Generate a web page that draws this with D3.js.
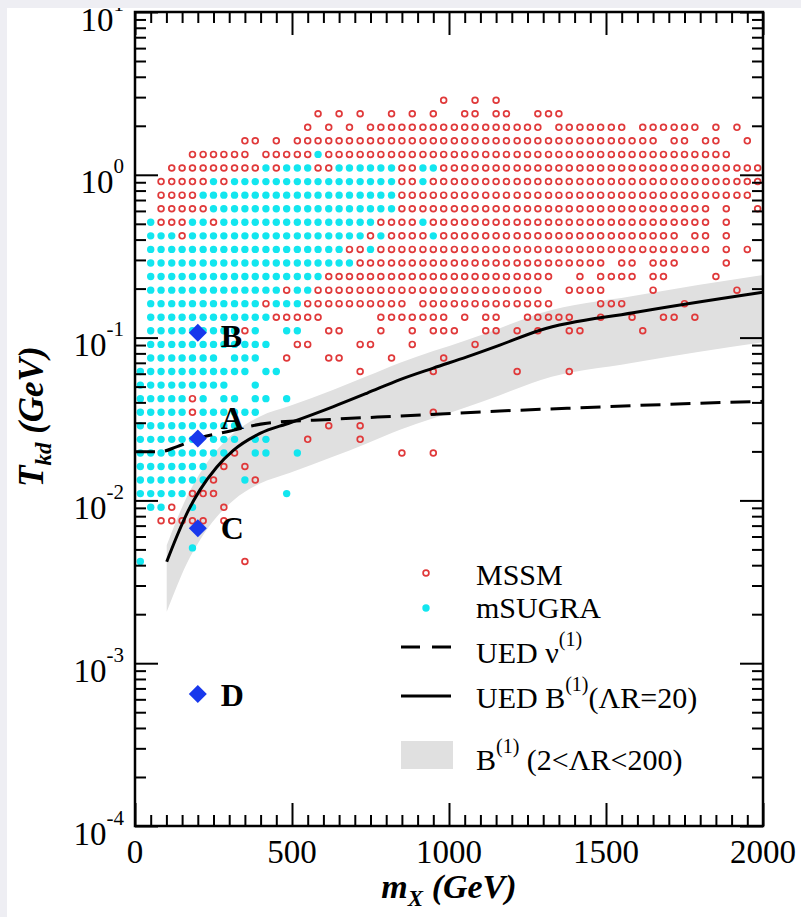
<!DOCTYPE html>
<html><head><meta charset="utf-8">
<script src="https://cdn.jsdelivr.net/npm/d3@7"></script>
<style>body{margin:0;background:#fff;} svg{display:block}</style>
</head><body>
<svg id="c" width="801" height="917"></svg>
<script>
// ---------- data ----------
const massGrid = [17,50,83,117,150,183,217,250,283,317,350,383,417,450,483,517,550,583,617,650,
  683,717,750,783,817,850,883,917,950,983,1017,1050,1083,1117,1150,1183,1217,1250,1283,1317,
  1350,1383,1417,1450,1483,1517,1550,1583,1617,1650,1683,1717,1750,1783,1817,1850,1883,1917,1950,1983];
const tkdLevels = [2.873,2.371,1.957,1.616,1.334,1.101,0.9085,0.7499,0.6190,0.5109,0.4217,0.3481,
  0.2873,0.2371,0.1957,0.1616,0.1334,0.1101,0.09085,0.07499,0.06190,0.05109,0.04217,0.03481,
  0.02873,0.02371,0.01957,0.01616,0.01334,0.01101,0.009085,0.007499,0.006190,0.005109,0.004217];
// column indices (into massGrid) present on each tkd level
const mssmRows = [
  "29 32 34",
  "17 19 21 24 26 28 31 32 34 35 38-40",
  "16 18 20 22-38 40-46 48-53 55 57",
  "10 11 13 15-49 51 52 54 55 58",
  "5-10 12-16 18-56",
  "3-11 13 17 18 25 26 29-59",
  "2-6 8 25 26 28-59",
  "2-5 25-58",
  "2-6 25-54 56 59",
  "2-4 7 23-26 28-54 56",
  "4 22 24-27 29-51 53 54 56",
  "20 21 23-54 56 58",
  "21-44 46 47 49-51 56",
  "18-39 42 44-47 49 50 55",
  "14 17-38 41-44 49 57",
  "12 16-25 27-39 44-46 52",
  "13-17 23-29 31 33 34 37-41 44 47 50 51 53",
  "10 18 19 23 26 28-30 33 34 36 38 41 42 48",
  "15 16 21 22 26 32",
  "14 18 19 24 29",
  "21 28 36 41",
  "",
  "5",
  "5 28",
  "18 21",
  "16 21",
  "9 25 28",
  "8 10",
  "7 11",
  "5-7",
  "3 8",
  "2-6 8",
  "",
  "",
  "10"
];
const msugraRows = [
  "", "", "", "",
  "17",
  "12 14-16 19-24 27 28",
  "7 9-24 27",
  "6-24",
  "7-24",
  "1 5 6 8-22 27",
  "1-3 5-21 23 28",
  "1-19 22",
  "1-20",
  "1-17",
  "1-13 15 16",
  "1-11 13-15",
  "1-12",
  "1-9 11 14 15",
  "1-12",
  "1-7 9-11",
  "0-10 12 13",
  "0-8 11",
  "0-4 6 8 9 11 12 14",
  "0-4 6-11",
  "0-9",
  "0-5 7-9 11 12",
  "0-8 11 12 15",
  "0-6",
  "0-6 10",
  "0-4 14",
  "1 2 5",
  "",
  "",
  "5",
  "0"
];
const benchNames = ["A","B","C","D"];
const benchMass  = [200, 200, 200, 200];
const benchTkd   = [0.0240, 0.107, 0.00674, 0.000647];

const uedNuMass = [0, 80, 134, 207, 293, 420, 631, 844, 1162, 1376, 1586, 1799, 2000];
const uedNuTkd  = [0.0199, 0.0199, 0.0214, 0.0242, 0.0264, 0.0298, 0.0315, 0.0330, 0.0354, 0.0368, 0.0382, 0.0395, 0.0406];

const uedBMass = [101, 133, 165, 207, 260, 313, 398, 494, 632, 738, 844, 950, 1057, 1162, 1290, 1586, 2000];
const uedBTkd  = [0.0042, 0.0060, 0.0083, 0.0116, 0.0160, 0.0203, 0.0258, 0.0300, 0.0377, 0.0455, 0.0552, 0.0650, 0.0762, 0.0900, 0.111, 0.142, 0.190];
const bandUpper = [0.0053, 0.0076, 0.0105, 0.0147, 0.0203, 0.0258, 0.0328, 0.0381, 0.0479, 0.0578, 0.0701, 0.0826, 0.0968, 0.1143, 0.141, 0.180, 0.242];
const bandLower = [0.00207, 0.00296, 0.00409, 0.00571, 0.00790, 0.0100, 0.0127, 0.0148, 0.0186, 0.0224, 0.0272, 0.0320, 0.0375, 0.0443, 0.0547, 0.070, 0.0935];

const xMajorTicks = [0, 500, 1000, 1500, 2000];
const yMajorExps = [-4, -3, -2, -1, 0, 1];

// ---------- drawing ----------
const svg = d3.select("#c");
const L = 135, R = 763, T = 12, B = 826;
const x = d3.scaleLinear().domain([0, 2000]).range([L, R]);
const y = d3.scaleLog().domain([1e-4, 10]).range([B, T]);
const serif = "'Liberation Serif','Times New Roman',serif";

svg.append("rect").attr("width", 801).attr("height", 917).attr("fill", "#fff");

const defs = svg.append("defs");
defs.append("clipPath").attr("id", "clip").append("rect")
  .attr("x", L).attr("y", T).attr("width", R - L).attr("height", B - T);

function parseRow(s) {
  const out = [];
  s.trim().split(/\s+/).filter(t => t).forEach(t => {
    const p = t.split("-").map(Number);
    if (p.length === 1) out.push(p[0]);
    else for (let k = p[0]; k <= p[1]; k++) out.push(k);
  });
  return out;
}
const mssm = [], msugra = [];
mssmRows.forEach((s, i) => parseRow(s).forEach(k => mssm.push([massGrid[k], tkdLevels[i]])));
msugraRows.forEach((s, i) => parseRow(s).forEach(k => msugra.push([massGrid[k], tkdLevels[i]])));

const plot = svg.append("g").attr("clip-path", "url(#clip)");

// band
const bandData = uedBMass.map((m, i) => ({m, lo: bandLower[i], hi: bandUpper[i]}));
plot.append("path").datum(bandData)
  .attr("fill", "#e0e0e0")
  .attr("d", d3.area().x(d => x(d.m)).y0(d => y(d.lo)).y1(d => y(d.hi)).curve(d3.curveMonotoneX));

// points
plot.append("g").selectAll("circle").data(msugra).join("circle")
  .attr("cx", d => x(d[0])).attr("cy", d => y(d[1])).attr("r", 3.7)
  .attr("fill", "#12e6ef");
plot.append("g").selectAll("circle").data(mssm).join("circle")
  .attr("cx", d => x(d[0])).attr("cy", d => y(d[1])).attr("r", 2.9)
  .attr("fill", "none").attr("stroke", "#e0393a").attr("stroke-width", 1.7);

// lines
const line = d3.line().x(d => x(d[0])).y(d => y(d[1])).curve(d3.curveMonotoneX);
plot.append("path").datum(uedNuMass.map((m, i) => [m, uedNuTkd[i]]))
  .attr("fill", "none").attr("stroke", "#000").attr("stroke-width", 3)
  .attr("stroke-dasharray", "20,10").attr("d", line);
plot.append("path").datum(uedBMass.map((m, i) => [m, uedBTkd[i]]))
  .attr("fill", "none").attr("stroke", "#000").attr("stroke-width", 3).attr("d", line);

// benchmarks
const bench = benchNames.map((n, i) => ({n, m: benchMass[i], t: benchTkd[i]}));
const labelDy = {A: -10, B: 14, C: 11, D: 12};
svg.append("g").selectAll("path").data(bench).join("path")
  .attr("transform", d => `translate(${x(d.m)},${y(d.t)})`)
  .attr("d", "M0,-9L9,0L0,9L-9,0Z").attr("fill", "#1838ec");
svg.append("g").selectAll("text").data(bench).join("text")
  .attr("x", d => x(d.m) + 23).attr("y", d => y(d.t) + labelDy[d.n])
  .attr("font-family", serif).attr("font-weight", "bold").attr("font-size", 32)
  .text(d => d.n);

// axes ticks (inward on all sides)
const xMinor = d3.range(0, 2001, 50).filter(v => v % 500 !== 0);
const yMinor = [];
for (let e = -4; e < 1; e++) for (let m = 2; m <= 9; m++) yMinor.push(m * Math.pow(10, e));
const yMajor = yMajorExps.map(e => Math.pow(10, e));

function styleAxis(g) {
  g.select(".domain").remove();
  g.selectAll("line").attr("stroke", "#000").attr("stroke-width", 2);
  g.selectAll("text").remove();
}
svg.append("g").attr("transform", `translate(0,${B})`).call(d3.axisBottom(x).tickValues(xMinor).tickSize(-11)).call(styleAxis);
svg.append("g").attr("transform", `translate(0,${B})`).call(d3.axisBottom(x).tickValues(xMajorTicks).tickSize(-23)).call(styleAxis);
svg.append("g").attr("transform", `translate(0,${T})`).call(d3.axisTop(x).tickValues(xMinor).tickSize(-11)).call(styleAxis);
svg.append("g").attr("transform", `translate(0,${T})`).call(d3.axisTop(x).tickValues(xMajorTicks).tickSize(-23)).call(styleAxis);
svg.append("g").attr("transform", `translate(${L},0)`).call(d3.axisLeft(y).tickValues(yMinor).tickSize(-11)).call(styleAxis);
svg.append("g").attr("transform", `translate(${L},0)`).call(d3.axisLeft(y).tickValues(yMajor).tickSize(-23)).call(styleAxis);
svg.append("g").attr("transform", `translate(${R},0)`).call(d3.axisRight(y).tickValues(yMinor).tickSize(-11)).call(styleAxis);
svg.append("g").attr("transform", `translate(${R},0)`).call(d3.axisRight(y).tickValues(yMajor).tickSize(-23)).call(styleAxis);

// frame
svg.append("rect").attr("x", L).attr("y", T).attr("width", R - L).attr("height", B - T)
  .attr("fill", "none").attr("stroke", "#000").attr("stroke-width", 2.5);

// tick labels
svg.append("g").selectAll("text").data(xMajorTicks).join("text")
  .attr("x", d => x(d)).attr("y", 863).attr("text-anchor", "middle")
  .attr("font-family", serif).attr("font-size", 33).text(d => d);
const yl = svg.append("g").selectAll("text").data(yMajorExps).join("text")
  .attr("x", 124).attr("y", d => y(Math.pow(10, d)) + 18.5).attr("text-anchor", "end")
  .attr("font-family", serif).attr("font-size", 33);
yl.append("tspan").text("10");
yl.append("tspan").attr("dy", -20).attr("font-size", 21).text(d => d);

// axis titles
const xt = svg.append("text").attr("x", (L + R) / 2).attr("y", 898).attr("text-anchor", "middle")
  .attr("font-family", serif).attr("font-weight", "bold").attr("font-style", "italic").attr("font-size", 34);
xt.append("tspan").text("m");
xt.append("tspan").attr("dy", 8).attr("font-size", 23).text("X");
xt.append("tspan").attr("dy", -8).text(" (GeV)");

const ytt = svg.append("text").attr("transform", "translate(43,487) rotate(-90)")
  .attr("font-family", serif).attr("font-weight", "bold").attr("font-style", "italic").attr("font-size", 35);
ytt.append("tspan").text("T");
ytt.append("tspan").attr("dy", 8).attr("font-size", 23).text("kd");
ytt.append("tspan").attr("dy", -8).text(" (GeV)");

// legend
const lg = svg.append("g").attr("font-family", serif).attr("font-size", 30);
lg.append("circle").attr("cx", 426).attr("cy", 573).attr("r", 2.9).attr("fill", "none").attr("stroke", "#e0393a").attr("stroke-width", 1.7);
lg.append("text").attr("x", 476).attr("y", 585).text("MSSM");
lg.append("circle").attr("cx", 426).attr("cy", 608).attr("r", 3.7).attr("fill", "#12e6ef");
lg.append("text").attr("x", 476).attr("y", 618).text("mSUGRA");
lg.append("line").attr("x1", 401).attr("x2", 451).attr("y1", 647).attr("y2", 647)
  .attr("stroke", "#000").attr("stroke-width", 3).attr("stroke-dasharray", "19,12");
const t3 = lg.append("text").attr("x", 476).attr("y", 663);
t3.append("tspan").text("UED ν");
t3.append("tspan").attr("dy", -17).attr("font-size", 20).text("(1)");
lg.append("line").attr("x1", 401).attr("x2", 451).attr("y1", 696).attr("y2", 696)
  .attr("stroke", "#000").attr("stroke-width", 3);
const t4 = lg.append("text").attr("x", 476).attr("y", 708);
t4.append("tspan").text("UED B");
t4.append("tspan").attr("dy", -17).attr("font-size", 20).text("(1)");
t4.append("tspan").attr("dy", 17).text("(ΛR=20)");
lg.append("rect").attr("x", 401).attr("y", 741).attr("width", 52).attr("height", 28).attr("fill", "#e0e0e0");
const t5 = lg.append("text").attr("x", 476).attr("y", 770);
t5.append("tspan").text("B");
t5.append("tspan").attr("dy", -17).attr("font-size", 20).text("(1)");
t5.append("tspan").attr("dy", 17).text(" (2<ΛR<200)");

// screenshot border strips
svg.append("rect").attr("x", 0).attr("y", 0).attr("width", 801).attr("height", 8).attr("fill", "#eeeef3");
svg.append("rect").attr("x", 0).attr("y", 0).attr("width", 7).attr("height", 917).attr("fill", "#eeeef3");
</script>
</body></html>
